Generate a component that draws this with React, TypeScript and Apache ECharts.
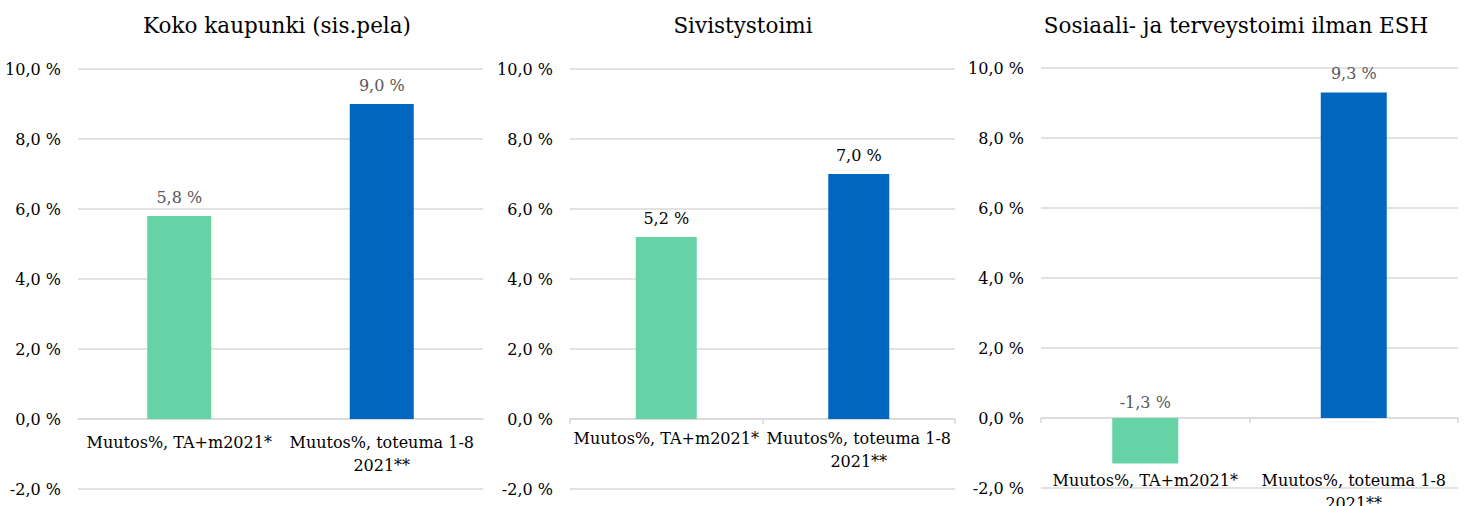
import React, { useEffect, useRef } from "react";
import * as echarts from "echarts";

const titles = ["Koko kaupunki (sis.pela)", "Sivistystoimi", "Sosiaali- ja terveystoimi ilman ESH"];
const categories = ["Muutos%, TA+m2021*", "Muutos%, toteuma 1-8\n2021**"];
const kokoValues = [5.8, 9.0];
const sivistysValues = [5.2, 7.0];
const soteValues = [-1.3, 9.3];
const yMin = -2;
const yMax = 10;
const yInterval = 2;

const GREEN = "#66D3A6";
const BLUE = "#0066BF";
const GRIDLINE = "#D9D9D9";
const FONT = "DejaVu Serif";

const fmt = (v: number) => v.toFixed(1).replace(".", ",") + " %";

export default function App() {
  const ref = useRef<HTMLDivElement>(null);
  useEffect(() => {
    document.body.style.margin = "0";
    if (!ref.current) return;
    const chart = echarts.init(ref.current, undefined, { renderer: "svg" });
    const panels = [
      { values: kokoValues, grid: { left: 78, top: 69, width: 405, height: 420 }, barWidth: 64, labelColor: "#595959", ticks: false, catMargin: -58, titleX: 272 },
      { values: sivistysValues, grid: { left: 570, top: 69, width: 385, height: 420 }, barWidth: 61, labelColor: "#000000", ticks: true, catMargin: -62, titleX: 738 },
      { values: soteValues, grid: { left: 1041, top: 68, width: 417, height: 420 }, barWidth: 66, labelColor: "#595959", ticks: true, catMargin: -19, titleX: 1231 },
    ];
    const option: any = {
      animation: false,
      title: panels.map((p, i) => ({
        text: titles[i],
        left: p.titleX,
        top: 9,
        textAlign: "center",
        textStyle: { fontFamily: FONT, fontSize: 21.5, fontWeight: "normal", color: "#000" },
      })),
      grid: panels.map((p) => ({ ...p.grid, containLabel: false, outerBoundsMode: "none" })),
      xAxis: panels.map((p, i) => ({
        type: "category",
        gridIndex: i,
        data: categories,
        axisLine: { show: true, onZero: true, lineStyle: { color: GRIDLINE, width: 1.5 } },
        axisTick: { show: p.ticks, length: 5, lineStyle: { color: GRIDLINE, width: 1.5 } },
        axisLabel: {
          fontFamily: FONT,
          fontSize: 16,
          color: "#000",
          margin: p.catMargin,
          lineHeight: 23,
          interval: 0,
        },
      })),
      yAxis: panels.map((p, i) => ({
        type: "value",
        gridIndex: i,
        min: yMin,
        max: yMax,
        interval: yInterval,
        axisLine: { show: false },
        axisTick: { show: false },
        splitLine: { lineStyle: { color: GRIDLINE, width: 1.5 } },
        axisLabel: {
          fontFamily: FONT,
          fontSize: 16,
          color: "#000",
          margin: 17,
          formatter: (v: number) => fmt(v),
        },
      })),
      series: panels.map((p, i) => ({
        type: "bar",
        xAxisIndex: i,
        yAxisIndex: i,
        barWidth: p.barWidth,
        data: p.values.map((v, j) => ({
          value: v,
          itemStyle: { color: j === 0 ? GREEN : BLUE },
          label: { distance: v < 0 ? 8 : 11 },
        })),
        label: {
          show: true,
          position: "top",
          distance: 11,
          fontFamily: FONT,
          fontSize: 16,
          color: p.labelColor,
          formatter: (d: any) => fmt(d.value),
        },
      })),
    };
    chart.setOption(option);
    return () => chart.dispose();
  }, []);
  return <div ref={ref} style={{ width: 1465, height: 506 }} />;
}
